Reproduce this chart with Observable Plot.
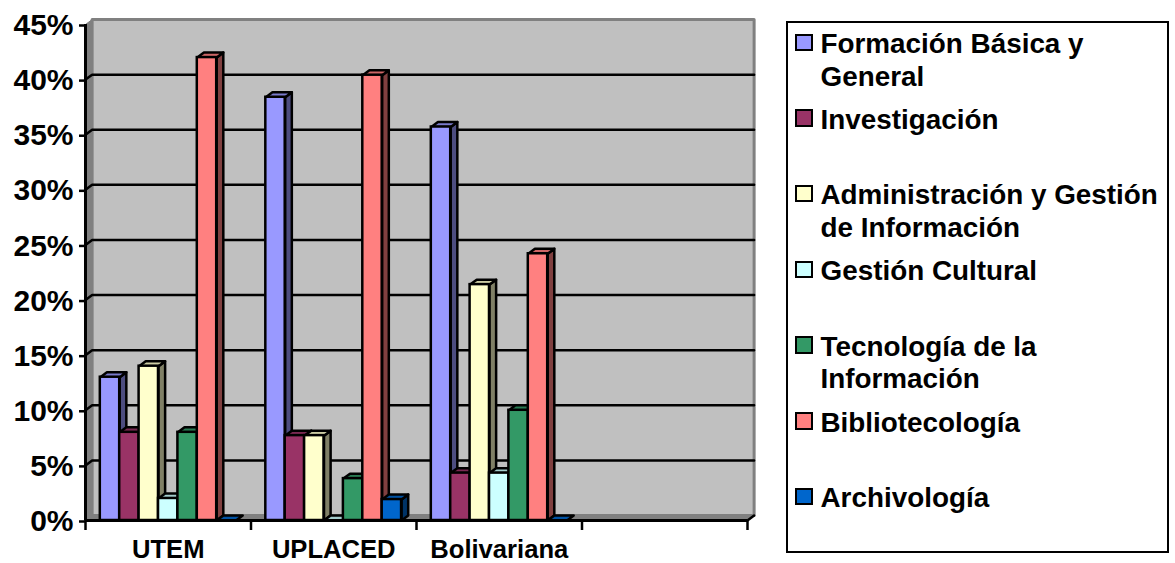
<!DOCTYPE html>
<html>
<head>
<meta charset="utf-8">
<script src="https://cdn.jsdelivr.net/npm/d3@7"></script>
<script src="https://cdn.jsdelivr.net/npm/@observablehq/plot@0.6"></script>
<style>
  html, body { margin: 0; padding: 0; background: #fff; }
  #root { position: relative; width: 1175px; height: 563px; font-family: "Liberation Sans", Arial, sans-serif; }
  #root svg { display: block; }
  #legend { position: absolute; left: 786px; top: 21px; width: 379px; height: 528px; border: 2.5px solid #000; box-sizing: content-box; background: #fff; }
  .item { position: absolute; left: 32.5px; font-weight: bold; font-size: 27.85px; line-height: 32.5px; color: #000; white-space: nowrap; }
  .item i { position: absolute; left: -25.5px; top: 5.5px; width: 13.5px; height: 13.5px; border: 2.5px solid #000; }
</style>
</head>
<body>
<div id="root"><div id="legend"></div></div>
<script>
const groups = ["UTEM", "UPLACED", "Bolivariana"];
const series = ["Formación Básica y General", "Investigación", "Administración y Gestión de Información", "Gestión Cultural", "Tecnología de la Información", "Bibliotecología", "Archivología"];
const legendLines = [["Formación Básica y", "General"], ["Investigación"], ["Administración y Gestión", "de Información"], ["Gestión Cultural"], ["Tecnología de la", "Información"], ["Bibliotecología"], ["Archivología"]];
const colors = ["#9999FF", "#993366", "#FFFFCC", "#CCFFFF", "#339966", "#FF8080", "#0066CC"];
const utem = [13, 8, 14, 2, 8, 42, 0];
const uplaced = [38.4, 7.7, 7.7, 0, 3.8, 40.4, 1.9];
const bolivariana = [35.7, 4.3, 21.4, 4.3, 10, 24.2, 0];
const yTicks = [0, 5, 10, 15, 20, 25, 30, 35, 40, 45];
const gridValues = [5, 10, 15, 20, 25, 30, 35, 40];
const xTicks = [0, 1, 2, 3, 4];
const labelPositions = [0.5, 1.5, 2.5];

const depthX = 0.04, depthY = 0.45;        // oblique depth of the 3-D look, in data units
const sidePad = 0.0895, barW = 0.1172;     // bar layout inside a category, in category units
const shade = (c, k) => { const o = d3.rgb(c); return d3.rgb(o.r * k, o.g * k, o.b * k).formatHex(); };

const bars = [];
[utem, uplaced, bolivariana].forEach((vals, g) => vals.forEach((v, s) => {
  const x1 = g + sidePad + s * barW;
  bars.push({g, s, v, x1, x2: x1 + barW, y0: 0, color: colors[s]});
}));

// Side and top faces drawn bar by bar so a later bar covers an earlier one
const faces = [];
bars.forEach((b, i) => {
  const side = [[b.x2, 0], [b.x2 + depthX, depthY], [b.x2 + depthX, b.v + depthY], [b.x2, b.v], [b.x2, 0]];
  const top = [[b.x1, b.v], [b.x1 + depthX, b.v + depthY], [b.x2 + depthX, b.v + depthY], [b.x2, b.v], [b.x1, b.v]];
  if (b.v > 0) side.forEach(p => faces.push({id: `s${i}`, x: p[0], y: p[1], fill: shade(b.color, 0.5)}));
  top.forEach(p => faces.push({id: `t${i}`, x: p[0], y: p[1], fill: shade(b.color, 0.8)}));
});

const wall = [[depthX, depthY], [4 + depthX, depthY], [4 + depthX, 45 + depthY], [depthX, 45 + depthY], [depthX, depthY]].map(([x, y]) => ({x, y}));
const leftWall = [[0, 0], [depthX, depthY], [depthX, 45 + depthY], [0, 45], [0, 0]].map(([x, y]) => ({x, y}));
const floor = [[0, 0], [depthX, depthY], [4 + depthX, depthY], [4, 0], [0, 0]].map(([x, y]) => ({x, y}));
const grid = gridValues.flatMap(v => [[0, v], [depthX, v + depthY], [4 + depthX, v + depthY]].map(([x, y]) => ({v, x, y})));
const cornerRight = [[4, 0], [4 + depthX, depthY]].map(([x, y]) => ({x, y}));

const chart = Plot.plot({
  width: 1175, height: 563,
  marginLeft: 85, marginRight: 428, marginTop: 24, marginBottom: 43,
  style: {fontFamily: '"Liberation Sans", Arial, sans-serif', background: "#fff", color: "#000", overflow: "visible"},
  x: {type: "linear", domain: [0, 4], label: null},
  y: {type: "linear", domain: [0, 45], label: null},
  marks: [
    Plot.line(wall, {x: "x", y: "y", fill: "#C0C0C0", stroke: "#808080", strokeWidth: 3}),
    Plot.line(leftWall, {x: "x", y: "y", fill: "#808080", stroke: "#808080", strokeWidth: 1}),
    Plot.line(floor, {x: "x", y: "y", fill: "#808080", stroke: "#808080", strokeWidth: 1}),
    Plot.line(grid, {x: "x", y: "y", z: "v", stroke: "#000", strokeWidth: 2.5}),
    Plot.line(faces, {x: "x", y: "y", z: "id", fill: "fill", stroke: "#000", strokeWidth: 2.5, strokeLinejoin: "round"}),
    Plot.rect(bars, {x1: "x1", x2: "x2", y1: "y0", y2: "v", fill: "color", stroke: "#000", strokeWidth: 2.5}),
    Plot.line(cornerRight, {x: "x", y: "y", stroke: "#000", strokeWidth: 2.5}),
    Plot.ruleY([0], {stroke: "#000", strokeWidth: 3}),
    Plot.ruleX([0], {y1: yTicks[0], y2: yTicks[yTicks.length - 1], stroke: "#000", strokeWidth: 3}),
    Plot.axisX({ticks: xTicks, tickSize: 10, tickFormat: () => "", strokeWidth: 2.5, anchor: "bottom", label: null}),
    Plot.axisX({ticks: labelPositions, tickSize: 0, tickPadding: 19, tickFormat: d => groups[Math.floor(d)], fontSize: 25.6, fontWeight: "bold", anchor: "bottom", label: null}),
    Plot.axisY({ticks: yTicks, tickSize: 6, tickPadding: 6, dy: 1, tickFormat: d => d + "%", fontSize: 30, fontWeight: "bold", strokeWidth: 2.5, anchor: "left", label: null})
  ]
});
const root = document.getElementById("root");
root.insertBefore(chart, root.firstChild);

const legend = document.getElementById("legend");
const step = 75.7, firstTop = 5;
legendLines.forEach((lines, i) => {
  const el = document.createElement("div");
  el.className = "item";
  el.style.top = (firstTop + i * step) + "px";
  el.innerHTML = lines.join("<br>");
  const sw = document.createElement("i");
  sw.style.background = colors[i];
  el.appendChild(sw);
  legend.appendChild(el);
});
</script>
</body>
</html>
